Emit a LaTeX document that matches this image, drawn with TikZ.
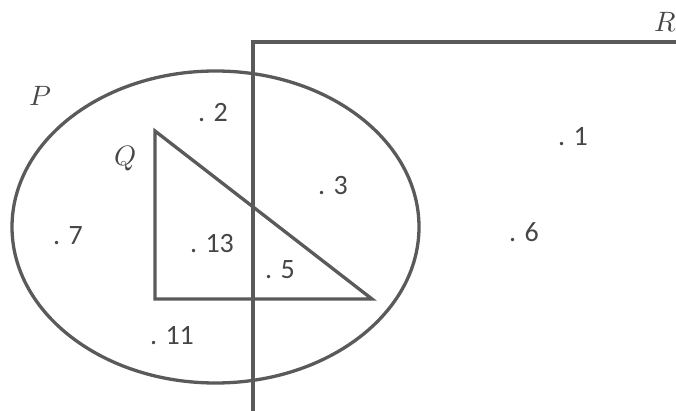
\documentclass[tikz,border=0pt]{standalone}
\usepackage{fontspec}
\setmainfont{Carlito}
\usepackage{unicode-math}
\setmathfont{Latin Modern Math}
\definecolor{ink}{RGB}{90,90,90}
\definecolor{txt}{RGB}{70,70,70}
\begin{document}
\begin{tikzpicture}[x=1pt,y=-1pt,
  shape line/.style={draw=ink,line width=3.3pt},
  num/.style={text=txt,font=\fontsize{28}{32}\selectfont,inner sep=0pt},
  setname/.style={text=txt,font=\fontsize{28}{32}\selectfont,inner sep=0pt}]
\useasboundingbox (0,0) rectangle (676,411);
% set R (open rectangle running off the page)
\coordinate (rbl) at (253,411);
\coordinate (rtl) at (253,42);
\coordinate (rtr) at (676,42);
\draw[shape line] (rbl) -- (rtl) -- (rtr);
% set P (ellipse)
\coordinate (pc) at (215.5,227);
\draw[shape line] (pc) ellipse [x radius=203.5, y radius=156];
% set Q (triangle)
\coordinate (qa) at (155,131);
\coordinate (qb) at (155,299);
\coordinate (qc) at (372,299);
\draw[shape line,line join=miter] (qa) -- (qb) -- (qc) -- cycle;
% set names
\node[setname] (lp) at (40,96) {$P$};
\node[setname] (lq) at (126,158) {$Q$};
\node[setname] (lr) at (665,22) {$R$};
% elements
\node[num] (e2) at (213,113) {. 2};
\node[num] (e1) at (573,137) {. 1};
\node[num] (e3) at (333,186) {. 3};
\node[num] (e7) at (68,236) {. 7};
\node[num] (e13) at (212,244) {. 13};
\node[num] (e6) at (524,232) {. 6};
\node[num] (e5) at (280,270) {. 5};
\node[num] (e11) at (172,336) {. 11};
\end{tikzpicture}
\end{document}
